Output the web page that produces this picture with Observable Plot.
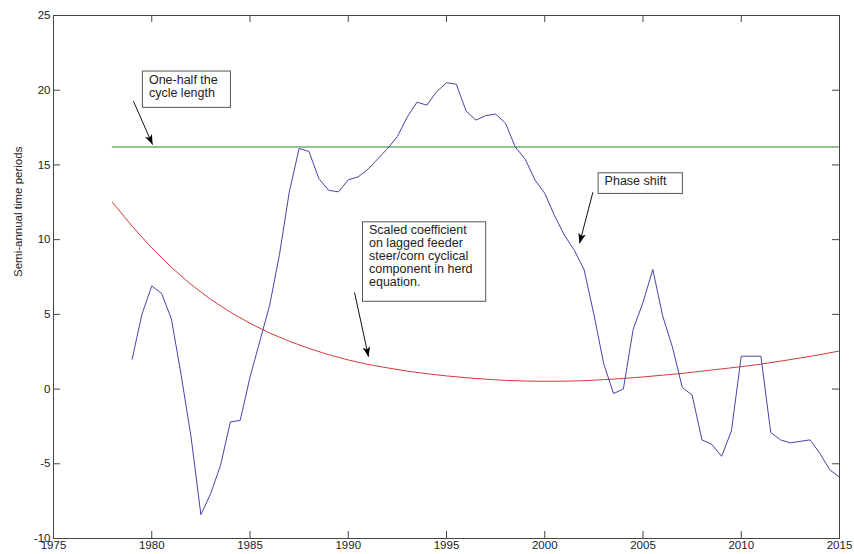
<!DOCTYPE html>
<html><head><meta charset="utf-8">
<script src="https://cdn.jsdelivr.net/npm/d3@7"></script>
<script src="https://cdn.jsdelivr.net/npm/@observablehq/plot@0.6"></script>
<style>
html,body{margin:0;padding:0;background:#fff;}
#chart svg{display:block;}
</style></head><body><div id="chart"></div>
<script>
// Phase shift series (semi-annual)
const periods = [1979,1979.5,1980,1980.5,1981,1981.5,1982,1982.5,1983,1983.5,1984,1984.5,1985,1985.5,1986,1986.5,1987,1987.5,1988,1988.5,1989,1989.5,1990,1990.5,1991,1991.5,1992,1992.5,1993,1993.5,1994,1994.5,1995,1995.5,1996,1996.5,1997,1997.5,1998,1998.5,1999,1999.5,2000,2000.5,2001,2001.5,2002,2002.5,2003,2003.5,2004,2004.5,2005,2005.5,2006,2006.5,2007,2007.5,2008,2008.5,2009,2009.5,2010,2010.5,2011,2011.5,2012,2012.5,2013,2013.5,2014,2014.5,2015];
const phaseShift = [2.0,5.0,6.9,6.4,4.7,0.9,-3.2,-8.4,-7.0,-5.1,-2.2,-2.1,0.8,3.2,5.6,9.0,13.2,16.1,15.9,14.1,13.3,13.2,14.0,14.2,14.7,15.4,16.1,16.9,18.2,19.2,19.0,19.9,20.5,20.4,18.6,18.0,18.3,18.4,17.8,16.2,15.4,14.0,13.1,11.6,10.3,9.3,8.0,5.0,1.7,-0.3,0.0,4.0,5.8,8.0,4.9,2.8,0.1,-0.4,-3.4,-3.7,-4.5,-2.8,2.2,2.2,2.2,-2.9,-3.4,-3.6,-3.5,-3.4,-4.3,-5.4,-5.9];

// Scaled coefficient curve (yearly)
const coefYears = [1978,1979,1980,1981,1982,1983,1984,1985,1986,1987,1988,1989,1990,1991,1992,1993,1994,1995,1996,1997,1998,1999,2000,2001,2002,2003,2004,2005,2006,2007,2008,2009,2010,2011,2012,2013,2014,2015];
const coefValues = [12.5,10.9,9.45,8.15,7.0,6.0,5.15,4.4,3.75,3.2,2.72,2.3,1.95,1.65,1.42,1.2,1.03,0.88,0.76,0.66,0.58,0.54,0.52,0.53,0.56,0.63,0.71,0.81,0.93,1.05,1.2,1.35,1.5,1.67,1.87,2.08,2.3,2.55];

// One-half the cycle length
const halfCycleYears = [1978, 2015];
const halfCycleValue = 16.2;

// Axes
const xTicks = [1975,1980,1985,1990,1995,2000,2005,2010,2015];
const yTicks = [-10,-5,0,5,10,15,20,25];
const yLabel = "Semi-annual time periods";

// Annotation boxes (data coordinates)
const noteText = ["One-half the\ncycle length", "Phase shift", "Scaled coefficient\non lagged feeder\nsteer/corn cyclical\ncomponent in herd\nequation."];
const noteX1 = [1979.55, 2002.74, 1990.75];
const noteX2 = [1984.03, 2007.03, 1997.02];
const noteYTop = [21.25, 14.44, 11.16];
const noteYBottom = [18.82, 13.06, 5.84];

// Annotation arrows (data coordinates)
const arrowX1 = [1979.07, 2002.45, 1990.32];
const arrowY1 = [19.26, 13.17, 6.47];
const arrowX2 = [1980.04, 2001.77, 1991.03];
const arrowY2 = [16.36, 9.75, 2.16];

const blue = periods.map((t, i) => ({t, v: phaseShift[i]}));
const red = coefYears.map((t, i) => ({t, v: coefValues[i]}));
const notes = noteText.map((label, i) => ({label, x1: noteX1[i], x2: noteX2[i], y1: noteYTop[i], y2: noteYBottom[i]}));
const arrows = arrowX1.map((x1, i) => ({x1, y1: arrowY1[i], x2: arrowX2[i], y2: arrowY2[i]}));

const W = 854, H = 554, mL = 53, mR = 15, mT = 15, mB = 16;
const plotW = W - mL - mR, plotH = H - mT - mB, tick = 7;
const fmt = d => String(d);

const chart = Plot.plot({
  width: W, height: H,
  marginLeft: mL, marginRight: mR, marginTop: mT, marginBottom: mB,
  style: {fontFamily: "'Liberation Sans', Arial, sans-serif", fontSize: "11.5px", color: "#222", background: "#fff", overflow: "visible"},
  x: {domain: [1975, 2015]},
  y: {domain: [-10, 25]},
  marks: [
    Plot.lineY(red, {x: "t", y: "v", stroke: "#d23a3a", strokeWidth: 1}),
    Plot.ruleY([halfCycleValue], {x1: halfCycleYears[0], x2: halfCycleYears[1], stroke: "#2a822a", strokeWidth: 1}),
    Plot.lineY(blue, {x: "t", y: "v", stroke: "#4545a8", strokeWidth: 1}),
    Plot.rect(notes, {x1: "x1", x2: "x2", y1: "y1", y2: "y2", fill: "white", stroke: "#555", strokeWidth: 1}),
    Plot.text(notes, {x: "x1", y: "y1", text: "label", textAnchor: "start", lineAnchor: "top", dx: 6, dy: 3, lineHeight: 1.03, fontSize: 12.5, fill: "#222"}),
    Plot.link(arrows, {x1: "x1", y1: "y1", x2: "x2", y2: "y2", stroke: "#111", strokeWidth: 1, ariaLabel: "note-arrow"}),
    // inward ticks
    Plot.tickX(xTicks, {x: d => d, insetTop: plotH - tick, stroke: "#444"}),
    Plot.tickX(xTicks, {x: d => d, insetBottom: plotH - tick, stroke: "#444"}),
    Plot.tickY(yTicks, {y: d => d, insetRight: plotW - tick, stroke: "#444"}),
    Plot.tickY(yTicks, {y: d => d, insetLeft: plotW - tick, stroke: "#444"}),
    Plot.frame({stroke: "#444"}),
    Plot.axisX(xTicks, {anchor: "bottom", tickSize: 0, tickPadding: 2, tickFormat: fmt, label: null, fill: "#222"}),
    Plot.axisY(yTicks, {anchor: "left", tickSize: 0, tickPadding: 3, tickFormat: fmt, label: null, fill: "#222"}),
    Plot.text([yLabel], {frameAnchor: "left", rotate: -90, dx: -35, fontSize: 11.5, fill: "#222"})
  ]
});

// filled arrowheads
const svg = d3.select(chart);
svg.append("defs").append("marker")
  .attr("id", "filled-head")
  .attr("viewBox", "0 0 10 10")
  .attr("refX", 10).attr("refY", 5)
  .attr("markerWidth", 10).attr("markerHeight", 10)
  .attr("markerUnits", "userSpaceOnUse")
  .attr("orient", "auto")
  .append("path").attr("d", "M0,1.2L10,5L0,8.8L2.5,5Z").attr("fill", "#000");
svg.selectAll('g[aria-label="note-arrow"] path, g[aria-label="link"] path').attr("marker-end", "url(#filled-head)");

document.getElementById("chart").appendChild(chart);
</script>
</body></html>
